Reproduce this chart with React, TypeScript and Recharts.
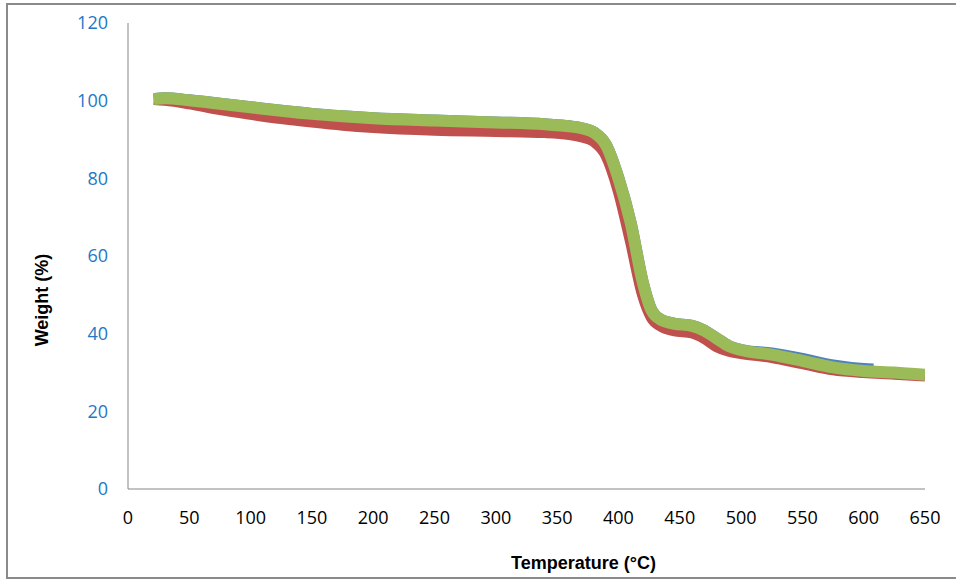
import React from 'react';
import { LineChart, Line, XAxis, YAxis, Label } from 'recharts';

// temperature (°C) / weight (%)
const blueTemp = [21, 30, 50, 75, 100, 125, 150, 175, 200, 250, 300, 340, 360, 370, 380, 390, 400, 410, 420, 427, 435, 445, 460, 470, 480, 490, 500, 525, 550, 575, 600, 608];
const blueWeight = [100.4, 100.6, 100.1, 99.2, 98.3, 97.4, 96.6, 96, 95.5, 94.9, 94.4, 93.9, 93.4, 92.9, 91.8, 88.5, 80, 68.5, 53, 46, 43.5, 42.6, 42, 40.8, 38.8, 36.8, 35.8, 34.9, 33.5, 31.8, 30.9, 30.8];

const redTemp = [21, 30, 50, 75, 100, 125, 150, 175, 200, 250, 300, 340, 360, 370, 380, 390, 400, 410, 420, 427, 435, 445, 460, 470, 480, 490, 500, 525, 550, 575, 600, 625, 650];
const redWeight = [100.4, 100.2, 99.3, 97.8, 96.6, 95.5, 94.6, 93.8, 93.2, 92.5, 92.2, 91.9, 91.4, 90.8, 89.6, 86, 77, 64, 50, 44.3, 42, 40.9, 40.3, 38.9, 36.8, 35.6, 35, 34, 32.4, 30.8, 30.1, 29.7, 29.2];

const greenTemp = [21, 30, 50, 75, 100, 125, 150, 175, 200, 250, 300, 340, 360, 370, 380, 390, 400, 410, 420, 427, 435, 445, 460, 470, 480, 490, 500, 525, 550, 575, 600, 625, 650];
const greenWeight = [100.4, 100.6, 100.1, 99.2, 98.3, 97.4, 96.6, 96, 95.5, 94.9, 94.4, 93.9, 93.4, 92.9, 91.8, 88.5, 80, 68.5, 53, 46, 43.5, 42.6, 42, 40.8, 38.8, 36.8, 35.8, 34.6, 33, 31.3, 30.4, 30, 29.4];

const xTicks = [0, 50, 100, 150, 200, 250, 300, 350, 400, 450, 500, 550, 600, 650];
const yTicks = [0, 20, 40, 60, 80, 100, 120];

const toPoints = (xs: number[], ys: number[]) => xs.map((t, i) => ({ t, w: ys[i] }));

const blueData = toPoints(blueTemp, blueWeight);
const redData = toPoints(redTemp, redWeight);
const greenData = toPoints(greenTemp, greenWeight);

const tickFont = { fontFamily: '"Open Sans", sans-serif', fontSize: 18 };
const titleFont = { fontFamily: '"Liberation Sans", Arial, sans-serif', fontSize: 18, fontWeight: 'bold' as const };

const XTitle = (props: any) => {
  const vb = props.viewBox || { x: 128, y: 489, width: 797 };
  return (
    <text x={vb.x + vb.width / 2 + 57} y={vb.y + 80} textAnchor="middle" fill="#000" style={titleFont}>
      Temperature (°C)
    </text>
  );
};

const YTitle = (props: any) => {
  const vb = props.viewBox || { x: 68, y: 23, height: 466 };
  const x = vb.x - 20;
  const y = vb.y + vb.height / 2 + 44;
  return (
    <text x={x} y={y} transform={`rotate(-90, ${x}, ${y})`} textAnchor="middle" fill="#000" style={titleFont}>
      Weight (%)
    </text>
  );
};

const App: React.FC = () => {
  return (
    <div style={{ position: 'absolute', left: 0, top: 0, width: 956, height: 580, background: '#fff', overflow: 'hidden' }}>
      <div
        style={{
          position: 'absolute',
          left: 6,
          top: 3,
          width: 1000,
          height: 576,
          border: '2px solid #8a8a8a',
          boxSizing: 'border-box',
        }}
      />
      <LineChart
        width={956}
        height={580}
        margin={{ top: 23, right: 31, bottom: 61, left: 68 }}
        style={{ position: 'absolute', left: 0, top: 0 }}
      >
        <XAxis
          type="number"
          dataKey="t"
          domain={[0, 650]}
          ticks={xTicks}
          allowDataOverflow
          height={30}
          stroke="#868686"
          tickLine={false}
          tickSize={0}
          tickMargin={22}
          tick={{ ...tickFont, fill: '#000' }}
        >
          <Label content={<XTitle />} />
        </XAxis>
        <YAxis
          type="number"
          dataKey="w"
          domain={[0, 120]}
          ticks={yTicks}
          width={60}
          stroke="#868686"
          tickLine={false}
          tickSize={0}
          tickMargin={20}
          tick={{ ...tickFont, fill: '#2377c6' }}
        >
          <Label content={<YTitle />} />
        </YAxis>
        <Line data={blueData} dataKey="w" type="monotone" stroke="#4f81bd" strokeWidth={12} dot={false} isAnimationActive={false} />
        <Line data={redData} dataKey="w" type="monotone" stroke="#c0504d" strokeWidth={12} dot={false} isAnimationActive={false} />
        <Line data={greenData} dataKey="w" type="monotone" stroke="#9bbb59" strokeWidth={12} dot={false} isAnimationActive={false} />
      </LineChart>
    </div>
  );
};

export default App;
